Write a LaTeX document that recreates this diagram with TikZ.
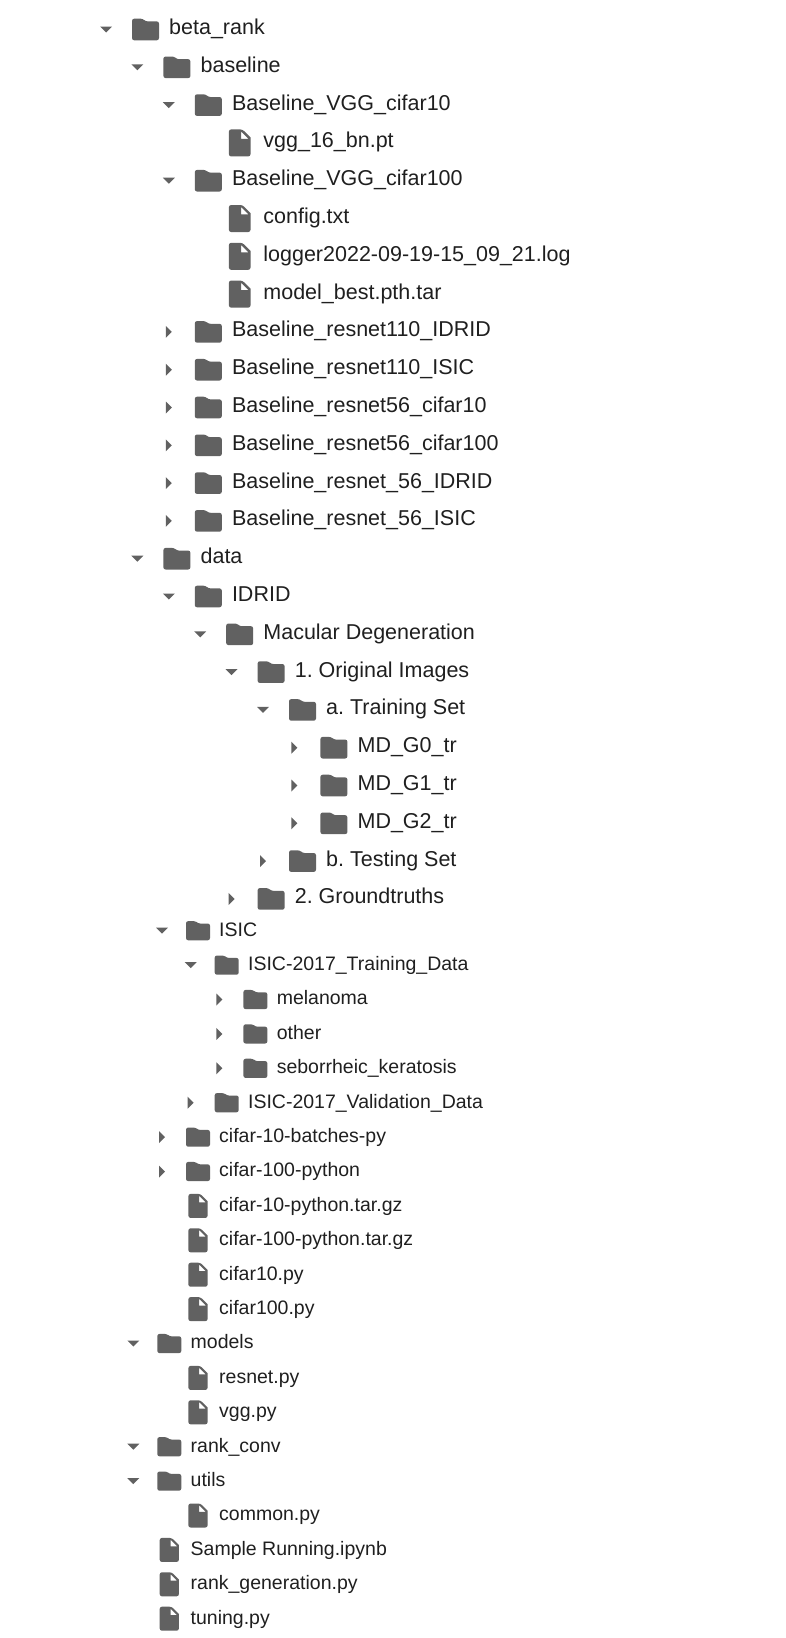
\documentclass[tikz,border=0pt]{standalone}
\usepackage{fontspec}
\setmainfont{Liberation Sans}
\frenchspacing
\usetikzlibrary{positioning}
\definecolor{icongray}{HTML}{616161}
\definecolor{textgray}{HTML}{1F1F1F}

\begin{document}
\begin{tikzpicture}
  [x=1pt, y=-1pt,
  % text of a row
  big/.style = {anchor=base west, inner sep=0pt, text=textgray, font=\fontsize{21.5}{24}\selectfont},
  small/.style = {anchor=base west, inner sep=0pt, text=textgray, font=\fontsize{19.5}{22}\selectfont},
  % icons
  bigicon/.style = {scale=1.35},
  smallicon/.style = {scale=1.2},
  opened/.pic = {\fill [icongray, scale=1.2] (-5,-2.5) -- (5,-2.5) -- (0,2.5) -- cycle;},
  closed/.pic = {\fill [icongray, scale=1.2] (-2.5,-5) -- (-2.5,5) -- (2.5,0) -- cycle;},
  folder/.pic = {\fill [icongray, rounded corners=2.2pt] (-10,8) -- (-10,-8) -- (-2,-8) -- (0,-6) -- (10,-6) -- (10,8) -- cycle;},
  file/.pic = {\fill [icongray, even odd rule, rounded corners=2.2pt] (-8,10) -- (-8,-10) -- (2,-10) [sharp corners] -- (8,-4) [rounded corners=2.2pt] -- (8,10) -- cycle
    [sharp corners] (1,-3) -- (1,-8.5) -- (6.5,-3) -- cycle;},
  ]

  \useasboundingbox (0,0) rectangle (786,1638);

  % beta_rank and baseline
  \pic at (106,29.5) {opened}; \pic [bigicon] at (145.5,29.5) {folder}; \node [big] (betarank) at (169,34.5) {beta\_rank};
  \pic at (137.4,67.3) {opened}; \pic [bigicon] at (176.9,67.3) {folder}; \node [big] (baseline) at (200.4,72.3) {baseline};
  \pic at (168.8,105.1) {opened}; \pic [bigicon] at (208.3,105.1) {folder}; \node [big] (vggcifarten) at (231.8,110.1) {Baseline\_VGG\_cifar10};
  \pic [bigicon] at (239.7,142.9) {file}; \node [big] (vggpt) at (263.2,147.9) {vgg\_16\_bn.pt};
  \pic at (168.8,180.7) {opened}; \pic [bigicon] at (208.3,180.7) {folder}; \node [big] (vggcifarhun) at (231.8,185.7) {Baseline\_VGG\_cifar100};
  \pic [bigicon] at (239.7,218.5) {file}; \node [big] (config) at (263.2,223.5) {config.txt};
  \pic [bigicon] at (239.7,256.3) {file}; \node [big] (logger) at (263.2,261.3) {logger2022-09-19-15\_09\_21.log};
  \pic [bigicon] at (239.7,294.1) {file}; \node [big] (modelbest) at (263.2,299.1) {model\_best.pth.tar};
  \pic at (168.8,331.9) {closed}; \pic [bigicon] at (208.3,331.9) {folder}; \node [big] (resaidrid) at (231.8,336.9) {Baseline\_resnet110\_IDRID};
  \pic at (168.8,369.7) {closed}; \pic [bigicon] at (208.3,369.7) {folder}; \node [big] (resaisic) at (231.8,374.7) {Baseline\_resnet110\_ISIC};
  \pic at (168.8,407.5) {closed}; \pic [bigicon] at (208.3,407.5) {folder}; \node [big] (resbten) at (231.8,412.5) {Baseline\_resnet56\_cifar10};
  \pic at (168.8,445.3) {closed}; \pic [bigicon] at (208.3,445.3) {folder}; \node [big] (resbhun) at (231.8,450.3) {Baseline\_resnet56\_cifar100};
  \pic at (168.8,483.1) {closed}; \pic [bigicon] at (208.3,483.1) {folder}; \node [big] (rescidrid) at (231.8,488.1) {Baseline\_resnet\_56\_IDRID};
  \pic at (168.8,520.9) {closed}; \pic [bigicon] at (208.3,520.9) {folder}; \node [big] (rescisic) at (231.8,525.9) {Baseline\_resnet\_56\_ISIC};

  % data
  \pic at (137.4,558.7) {opened}; \pic [bigicon] at (176.9,558.7) {folder}; \node [big] (data) at (200.4,563.7) {data};
  \pic at (168.8,596.5) {opened}; \pic [bigicon] at (208.3,596.5) {folder}; \node [big] (idrid) at (231.8,601.5) {IDRID};
  \pic at (200.2,634.3) {opened}; \pic [bigicon] at (239.7,634.3) {folder}; \node [big] (macular) at (263.2,639.3) {Macular Degeneration};
  \pic at (231.6,672.1) {opened}; \pic [bigicon] at (271.1,672.1) {folder}; \node [big] (original) at (294.6,677.1) {1. Original Images};
  \pic at (263,709.9) {opened}; \pic [bigicon] at (302.5,709.9) {folder}; \node [big] (training) at (326,714.9) {a. Training Set};
  \pic at (294.4,747.7) {closed}; \pic [bigicon] at (333.9,747.7) {folder}; \node [big] (mdzero) at (357.4,752.7) {MD\_G0\_tr};
  \pic at (294.4,785.5) {closed}; \pic [bigicon] at (333.9,785.5) {folder}; \node [big] (mdone) at (357.4,790.5) {MD\_G1\_tr};
  \pic at (294.4,823.3) {closed}; \pic [bigicon] at (333.9,823.3) {folder}; \node [big] (mdtwo) at (357.4,828.3) {MD\_G2\_tr};
  \pic at (263,861.1) {closed}; \pic [bigicon] at (302.5,861.1) {folder}; \node [big] (testing) at (326,866.1) {b. Testing Set};
  \pic at (231.6,898.9) {closed}; \pic [bigicon] at (271.1,898.9) {folder}; \node [big] (ground) at (294.6,903.9) {2. Groundtruths};

  % ISIC and the cifar files
  \pic at (162,930.7) {opened}; \pic [smallicon] at (198,930.7) {folder}; \node [small] (isic) at (219,936) {ISIC};
  \pic at (190.7,965.1) {opened}; \pic [smallicon] at (226.7,965.1) {folder}; \node [small] (isictrain) at (247.9,970.4) {ISIC-2017\_Training\_Data};
  \pic at (219.4,999.5) {closed}; \pic [smallicon] at (255.4,999.5) {folder}; \node [small] (melanoma) at (276.6,1004.8) {melanoma};
  \pic at (219.4,1033.9) {closed}; \pic [smallicon] at (255.4,1033.9) {folder}; \node [small] (other) at (276.6,1039.2) {other};
  \pic at (219.4,1068.3) {closed}; \pic [smallicon] at (255.4,1068.3) {folder}; \node [small] (seborrheic) at (276.6,1073.6) {seborrheic\_keratosis};
  \pic at (190.7,1102.7) {closed}; \pic [smallicon] at (226.7,1102.7) {folder}; \node [small] (isicval) at (247.9,1108) {ISIC-2017\_Validation\_Data};
  \pic at (162,1137.1) {closed}; \pic [smallicon] at (198,1137.1) {folder}; \node [small] (batches) at (219,1142.4) {cifar-10-batches-py};
  \pic at (162,1171.5) {closed}; \pic [smallicon] at (198,1171.5) {folder}; \node [small] (hunpython) at (219,1176.8) {cifar-100-python};
  \pic [smallicon] at (198,1205.9) {file}; \node [small] (tenraw) at (219,1211.2) {cifar-10-python.tar.gz};
  \pic [smallicon] at (198,1240.3) {file}; \node [small] (hunraw) at (219,1245.6) {cifar-100-python.tar.gz};
  \pic [smallicon] at (198,1274.7) {file}; \node [small] (tenpy) at (219,1280) {cifar10.py};
  \pic [smallicon] at (198,1309.1) {file}; \node [small] (hunpy) at (219,1314.4) {cifar100.py};

  % models, rank_conv, utils and the last files
  \pic at (133.3,1343.5) {opened}; \pic [smallicon] at (169.3,1343.5) {folder}; \node [small] (models) at (190.5,1348.8) {models};
  \pic [smallicon] at (198,1377.9) {file}; \node [small] (resnet) at (219,1383.2) {resnet.py};
  \pic [smallicon] at (198,1412.3) {file}; \node [small] (vgg) at (219,1417.6) {vgg.py};
  \pic at (133.3,1446.7) {opened}; \pic [smallicon] at (169.3,1446.7) {folder}; \node [small] (rankconv) at (190.5,1452) {rank\_conv};
  \pic at (133.3,1481.1) {opened}; \pic [smallicon] at (169.3,1481.1) {folder}; \node [small] (utils) at (190.5,1486.4) {utils};
  \pic [smallicon] at (198,1515.5) {file}; \node [small] (common) at (219,1520.8) {common.py};
  \pic [smallicon] at (169.3,1549.9) {file}; \node [small] (sample) at (190.5,1555.2) {Sample Running.ipynb};
  \pic [smallicon] at (169.3,1584.3) {file}; \node [small] (rankgen) at (190.5,1589.6) {rank\_generation.py};
  \pic [smallicon] at (169.3,1618.7) {file}; \node [small] (tuning) at (190.5,1624) {tuning.py};

\end{tikzpicture}
\end{document}
